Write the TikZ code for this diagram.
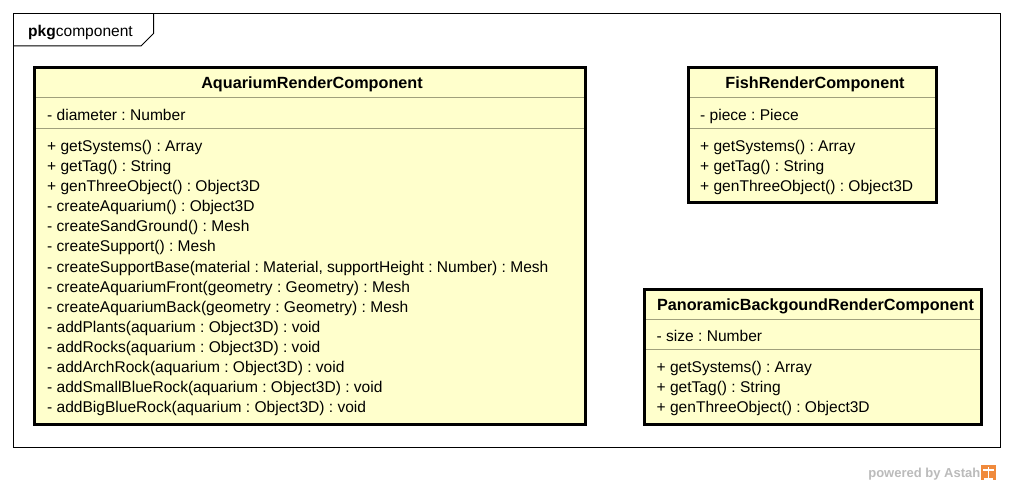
\documentclass[tikz,border=0pt]{standalone}
\usepackage{fontspec}
\setmainfont{Liberation Sans}
\frenchspacing
\definecolor{clsfill}{HTML}{FFFFCC}
\definecolor{sepcol}{HTML}{A0A07C}
\definecolor{astahgray}{HTML}{BBBBBB}
\definecolor{astahorange}{HTML}{F08A3C}
\begin{document}
\begin{tikzpicture}[x=1pt,y=-1pt,
  cls/.style={draw=black, line width=3pt, fill=clsfill},
  sepline/.style={draw=sepcol, line width=1pt},
  mem/.style={anchor=base west, inner sep=0pt, font=\fontsize{15.55}{20}\selectfont},
  ttl/.style={anchor=base, inner sep=0pt, font=\fontsize{16.2}{20}\selectfont\bfseries},
  frame/.style={draw=black, line width=1pt}]
\useasboundingbox (0,0) rectangle (1013,486);
\fill[white] (0,0) rectangle (1013,486);
% package frame
\draw[frame] (13.5,13.5) rectangle (1000.5,447.5);
\draw[frame] (13.5,46) -- (141,46) -- (153.5,33.5) -- (153.5,13.5);
\node[mem] (pkg) at (28,36.7) {\textbf{pkg}component};

% AquariumRenderComponent
\path[cls] (34.5,67.5) rectangle (585,424.5);
\draw[sepline] (36,98) -- (583.5,98);
\draw[sepline] (36,128.5) -- (583.5,128.5);
\node[ttl] (aqT) at (312,88.5) {AquariumRenderComponent};
\node[mem] (aqA) at (47,120.5) {- diameter : Number};
\foreach \t [count=\i from 0] in {
  {+ getSystems() : Array},
  {+ getTag() : String},
  {+ genThreeObject() : Object3D},
  {- createAquarium() : Object3D},
  {- createSandGround() : Mesh},
  {- createSupport() : Mesh},
  {- createSupportBase(material : Material, supportHeight : Number) : Mesh},
  {- createAquariumFront(geometry : Geometry) : Mesh},
  {- createAquariumBack(geometry : Geometry) : Mesh},
  {- addPlants(aquarium : Object3D) : void},
  {- addRocks(aquarium : Object3D) : void},
  {- addArchRock(aquarium : Object3D) : void},
  {- addSmallBlueRock(aquarium : Object3D) : void},
  {- addBigBlueRock(aquarium : Object3D) : void}}
  \node[mem] (aqM\i) at (47,151.5+\i*20.1) {\t};

% FishRenderComponent
\path[cls] (688.5,67.5) rectangle (936.5,202.5);
\draw[sepline] (690,98) -- (935,98);
\draw[sepline] (690,128.5) -- (935,128.5);
\node[ttl] (fiT) at (815,88.5) {FishRenderComponent};
\node[mem] (fiA) at (700,120.5) {- piece : Piece};
\foreach \t [count=\i from 0] in {
  {+ getSystems() : Array},
  {+ getTag() : String},
  {+ genThreeObject() : Object3D}}
  \node[mem] (fiM\i) at (700,151.5+\i*20.1) {\t};

% PanoramicBackgoundRenderComponent
\path[cls] (644.5,289.5) rectangle (981.5,424.5);
\draw[sepline] (646,319.5) -- (980,319.5);
\draw[sepline] (646,349.5) -- (980,349.5);
\node[ttl] (paT) at (815.5,310.5) {PanoramicBackgoundRenderComponent};
\node[mem] (paA) at (656.5,341.7) {- size : Number};
\foreach \t [count=\i from 0] in {
  {+ getSystems() : Array},
  {+ getTag() : String},
  {+ genThreeObject() : Object3D}}
  \node[mem] (paM\i) at (656.5,372.7+\i*20.1) {\t};

% powered by Astah
\node[anchor=base east, inner sep=0pt, text=astahgray,
  font=\fontsize{13}{15}\selectfont\bfseries] (pw) at (980.5,478) {powered by Astah};
\fill[astahorange] (981,465) rectangle (996,480);
\draw[white, line width=1.2pt] (983,470) -- (994,470) (988.5,467) -- (988.5,479) (984,479) -- (993,479);
\end{tikzpicture}
\end{document}
